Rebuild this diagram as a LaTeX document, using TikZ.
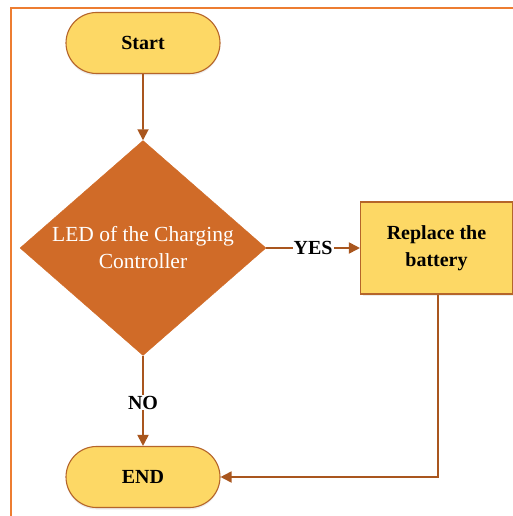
\documentclass[tikz,border=0pt]{standalone}
\usepackage{fontspec}
\setmainfont{Liberation Serif}
\usetikzlibrary{shapes.geometric,shapes.misc,arrows.meta,shadows}
\definecolor{frameor}{HTML}{ED7D31}
\definecolor{termfill}{HTML}{FDD865}
\definecolor{termdraw}{HTML}{B5652A}
\definecolor{decfill}{HTML}{D06B28}
\definecolor{arrcol}{HTML}{A9561E}
\tikzset{
  x=1pt,y=-1pt,
  term/.style={rounded rectangle, draw=termdraw, line width=1.1pt, fill=termfill,
    minimum width=154pt, minimum height=61pt, inner sep=0pt,
    font=\fontsize{20}{24}\selectfont\bfseries,
    drop shadow={shadow xshift=0pt, shadow yshift=-2pt, opacity=0.15}},
  procbox/.style={rectangle, draw=termdraw, line width=1.1pt, fill=termfill,
    minimum width=152pt, minimum height=92pt, inner sep=0pt, align=center,
    font=\fontsize{20}{27}\selectfont\bfseries,
    drop shadow={shadow xshift=2pt, shadow yshift=-2pt, opacity=0.15}},
  decision/.style={diamond, fill=decfill, draw=decfill, minimum width=246pt,
    minimum height=215pt, aspect=1.144, inner sep=0pt, align=center, text=white,
    font=\fontsize{21.5}{27}\selectfont},
  conn/.style={draw=arrcol, line width=1.8pt, -{Triangle[length=11pt,width=11pt]}},
  lbl/.style={fill=white, inner sep=1pt, font=\fontsize{20}{24}\selectfont\bfseries}
}
\begin{document}
\begin{tikzpicture}
\useasboundingbox (0,0) rectangle (513,516);
\draw[frameor, line width=1.5pt] (11,530) -- (11,8) -- (530,8);
\node[term] (start) at (143,43) {Start};
\node[decision] (led) at (143,248) {LED of the Charging\\Controller};
\node[procbox] (repl) at (436.5,248) {Replace the\\battery};
\node[term] (end) at (143,477) {END};
\coordinate (corner) at (438,477);
\draw[conn] (start) -- (led);
\draw[conn] (led.east) -- node[lbl] {YES} (repl.west);
\draw[conn] (led.south) -- node[lbl, pos=0.52] {NO} (end.north);
\draw[conn] (repl.south -| corner) -- (corner) -- (end.east);
\end{tikzpicture}
\end{document}
